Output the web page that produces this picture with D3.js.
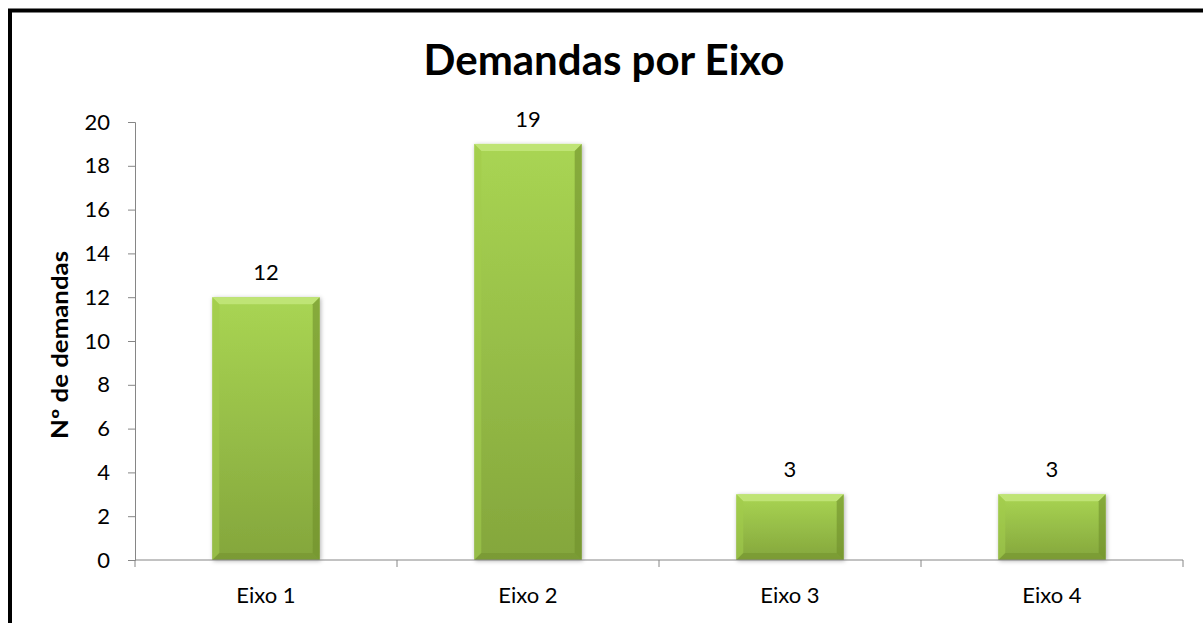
<!DOCTYPE html>
<html>
<head>
<meta charset="utf-8">
<script src="https://cdn.jsdelivr.net/npm/d3@7"></script>
<style>
  body { margin: 0; background: #fff; }
  text { font-family: Lato, "Open Sans", sans-serif; }
</style>
</head>
<body>
<div id="chart"></div>
<script>
// chart data
const categories = ["Eixo 1", "Eixo 2", "Eixo 3", "Eixo 4"];
const demandas = [12, 19, 3, 3];
const yTicks = [0, 2, 4, 6, 8, 10, 12, 14, 16, 18, 20];

const width = 1203;
const height = 623;

const marginLeft = 135;
const marginRight = 20;
const marginTop = 122;
const plotBottom = 560;

const svg = d3.select("#chart")
  .append("svg")
  .attr("width", width)
  .attr("height", height);

// outer frame (only left and top edges show in the crop)
svg.append("path")
  .attr("d", `M10,${height + 10} L10,10.5 L${width + 10},10.5`)
  .attr("fill", "none")
  .attr("stroke", "#000")
  .attr("stroke-width", 4);

const defs = svg.append("defs");
const grad = defs.append("linearGradient")
  .attr("id", "barGrad")
  .attr("x1", 0).attr("y1", 0).attr("x2", 0).attr("y2", 1);
grad.append("stop").attr("offset", "0%").attr("stop-color", "#a9d553");
grad.append("stop").attr("offset", "100%").attr("stop-color", "#84a63c");

const filter = defs.append("filter").attr("id", "shadow")
  .attr("x", "-20%").attr("y", "-20%").attr("width", "140%").attr("height", "140%");
filter.append("feDropShadow")
  .attr("dx", 1).attr("dy", 1).attr("stdDeviation", 2)
  .attr("flood-color", "#000").attr("flood-opacity", 0.3);

const x = d3.scaleBand()
  .domain(categories)
  .range([marginLeft, width - marginRight])
  .paddingInner(0.59)
  .paddingOuter(0.295);

const xTicksScale = d3.scaleBand()
  .domain(categories)
  .range([marginLeft, width - marginRight]);

const y = d3.scaleLinear()
  .domain([0, 20])
  .range([plotBottom, marginTop]);

// title
svg.append("text")
  .attr("x", 604)
  .attr("y", 75)
  .attr("text-anchor", "middle")
  .attr("font-size", 42)
  .attr("font-weight", "bold")
  .text("Demandas por Eixo");

// y axis title
svg.append("text")
  .attr("transform", `translate(68, 345) rotate(-90)`)
  .attr("text-anchor", "middle")
  .attr("font-family", "'Open Sans', sans-serif")
  .attr("font-size", 22)
  .attr("font-weight", "bold")
  .attr("textLength", 188)
  .attr("lengthAdjust", "spacingAndGlyphs")
  .text("Nº de demandas");

// bars
const bars = svg.append("g")
  .selectAll("g")
  .data(categories.map((c, i) => ({ cat: c, value: demandas[i] })))
  .join("g")
  .attr("filter", "url(#shadow)");

bars.append("rect")
  .attr("x", d => x(d.cat))
  .attr("y", d => y(d.value))
  .attr("width", x.bandwidth())
  .attr("height", d => y(0) - y(d.value))
  .attr("fill", "url(#barGrad)");

const bevel = 7;
// bevel facets
bars.each(function(d) {
  const g = d3.select(this);
  const x0 = x(d.cat), x1 = x0 + x.bandwidth();
  const y0 = y(d.value), y1 = y(0);
  const b = Math.min(bevel, (y1 - y0) / 2);
  g.append("polygon")
    .attr("points", `${x0},${y0} ${x1},${y0} ${x1 - b},${y0 + b} ${x0 + b},${y0 + b}`)
    .attr("fill", "#c3e67a").attr("opacity", 0.85);
  g.append("polygon")
    .attr("points", `${x0},${y0} ${x0 + b},${y0 + b} ${x0 + b},${y1 - b} ${x0},${y1}`)
    .attr("fill", "#a2cc4c").attr("opacity", 0.6);
  g.append("polygon")
    .attr("points", `${x1},${y0} ${x1},${y1} ${x1 - b},${y1 - b} ${x1 - b},${y0 + b}`)
    .attr("fill", "#6f8f2c").attr("opacity", 0.6);
  g.append("polygon")
    .attr("points", `${x0},${y1} ${x0 + b},${y1 - b} ${x1 - b},${y1 - b} ${x1},${y1}`)
    .attr("fill", "#6f8f2c").attr("opacity", 0.45);
});

// data labels
svg.append("g")
  .selectAll("text")
  .data(categories.map((c, i) => ({ cat: c, value: demandas[i] })))
  .join("text")
  .attr("x", d => x(d.cat) + x.bandwidth() / 2)
  .attr("y", d => y(d.value) - 17)
  .attr("text-anchor", "middle")
  .attr("font-size", 22)
  .attr("fill", "#000")
  .text(d => d.value);

// y axis
svg.append("g")
  .attr("transform", `translate(${marginLeft},0)`)
  .call(d3.axisLeft(y).tickValues(yTicks).tickSize(7).tickPadding(18).tickSizeOuter(7))
  .call(g => g.select(".domain").attr("stroke", "#868686"))
  .call(g => g.selectAll(".tick line").attr("stroke", "#868686"))
  .call(g => g.selectAll(".tick text")
    .attr("font-family", "Lato, 'Open Sans', sans-serif")
    .attr("font-size", 22)
    .attr("fill", "#000"));

// x axis
const xAxis = svg.append("g")
  .attr("transform", `translate(0,${plotBottom})`);
xAxis.append("line")
  .attr("x1", marginLeft).attr("x2", width - marginRight)
  .attr("stroke", "#868686");
const tickPos = categories.map(c => xTicksScale(c)).concat([width - marginRight]);
xAxis.selectAll(".xt")
  .data(tickPos)
  .join("line")
  .attr("class", "xt")
  .attr("x1", d => d).attr("x2", d => d)
  .attr("y1", 0).attr("y2", 7)
  .attr("stroke", "#868686");
xAxis.selectAll(".xl")
  .data(categories)
  .join("text")
  .attr("class", "xl")
  .attr("x", d => xTicksScale(d) + xTicksScale.bandwidth() / 2)
  .attr("y", 43)
  .attr("text-anchor", "middle")
  .attr("font-size", 22)
  .text(d => d);
</script>
</body>
</html>
